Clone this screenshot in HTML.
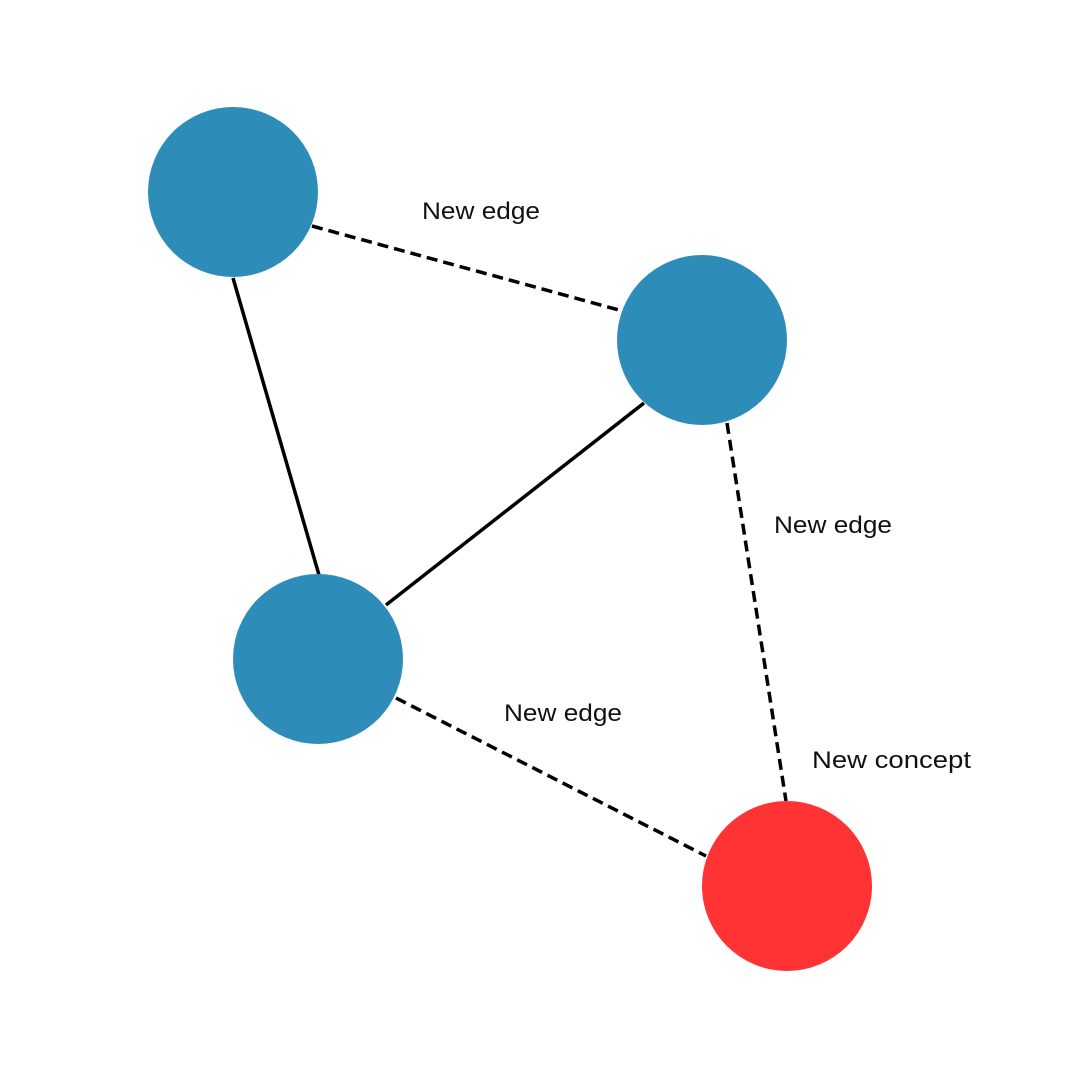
<!DOCTYPE html>
<html><head><meta charset="utf-8"><style>
html,body{margin:0;padding:0;background:#fff;}
svg{display:block;}
text{font-family:"Liberation Sans",sans-serif;font-size:24px;fill:#111;}
</style></head><body>
<svg width="1080" height="1080" viewBox="0 0 1080 1080">
<g stroke="#000" stroke-width="3.5" fill="none">
<line x1="312" y1="226" x2="619" y2="310" stroke-dasharray="11,6"/>
<line x1="233" y1="278" x2="319" y2="575"/>
<line x1="644" y1="403" x2="386" y2="605"/>
<line x1="396" y1="698" x2="706" y2="856" stroke-dasharray="11,6"/>
<line x1="727" y1="423" x2="786" y2="801" stroke-dasharray="11,6"/>
</g>
<circle cx="233" cy="192" r="85" fill="#2E8CB9"/>
<circle cx="702" cy="340" r="85" fill="#2E8CB9"/>
<circle cx="318" cy="659" r="85" fill="#2E8CB9"/>
<circle cx="787" cy="886" r="85" fill="#FF3333"/>
<text x="422" y="219" textLength="118" lengthAdjust="spacingAndGlyphs">New edge</text>
<text x="774" y="533" textLength="118" lengthAdjust="spacingAndGlyphs">New edge</text>
<text x="504" y="721" textLength="118" lengthAdjust="spacingAndGlyphs">New edge</text>
<text x="812" y="768" textLength="159" lengthAdjust="spacingAndGlyphs">New concept</text>
</svg>
</body></html>
